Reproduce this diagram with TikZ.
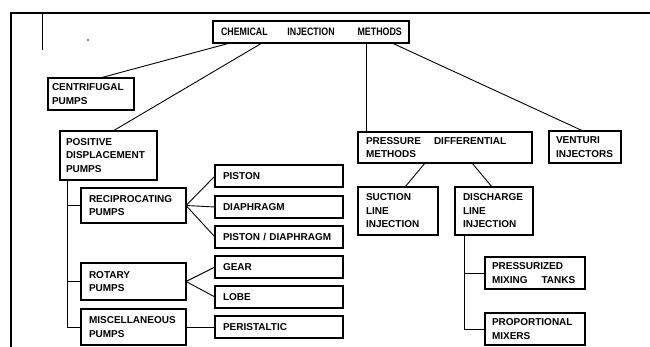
\documentclass[tikz,border=0pt]{standalone}
\usepackage{fontspec}
\usepackage{graphicx}
\setmainfont{Liberation Sans}
\begin{document}
\begin{tikzpicture}[x=1pt,y=-1pt,
  box/.style={draw, line width=1.1pt, rectangle, outer sep=0pt, inner xsep=8pt, inner ysep=2pt,
    align=left, anchor=north west, font=\fontsize{10}{13.5}\selectfont\bfseries},
  conn/.style={line width=0.9pt},
  frame/.style={line width=2pt}]
\useasboundingbox (0,0) rectangle (650,347);
% frame
\draw[frame] (11,347) -- (11,13) -- (650,13);
\draw[line width=1pt] (42,14) -- (42,50);
\fill (88,40) circle (0.9);
% boxes
\node[box, text width=180pt, minimum height=22pt] (chem) at (213,21)
  {\scalebox{0.82}[1]{\fontsize{10.8}{13}\selectfont CHEMICAL\hspace{24pt}INJECTION\hspace{28pt}METHODS}};
\node[box, inner xsep=4pt, text width=78pt, minimum height=32pt] (cent) at (48,78) {CENTRIFUGAL\\PUMPS};
\node[box, inner xsep=6pt, text width=85pt, minimum height=49pt] (pos) at (60,131) {POSITIVE\\DISPLACEMENT\\PUMPS};
\node[box, text width=89pt, minimum height=35pt] (recip) at (81,188) {RECIPROCATING\\PUMPS};
\node[box, text width=89pt, minimum height=37pt] (rot) at (81,263) {ROTARY\\PUMPS};
\node[box, text width=89pt, minimum height=36pt] (misc) at (81,309) {MISCELLANEOUS\\PUMPS};
\node[box, text width=112pt, minimum height=22pt] (piston) at (215,165) {PISTON};
\node[box, text width=112pt, minimum height=22pt] (diaph) at (215,196) {DIAPHRAGM};
\node[box, text width=112pt, minimum height=22pt] (pd) at (215,226) {PISTON / DIAPHRAGM};
\node[box, text width=112pt, minimum height=22pt] (gear) at (215,256) {GEAR};
\node[box, text width=112pt, minimum height=22pt] (lobe) at (215,286) {LOBE};
\node[box, text width=112pt, minimum height=22pt] (peri) at (215,316) {PERISTALTIC};
\node[box, text width=158pt, minimum height=31pt] (press) at (358,132) {\mbox{PRESSURE\hspace{13pt}DIFFERENTIAL}\\METHODS};
\node[box, inner xsep=7pt, text width=58pt, minimum height=32pt] (vent) at (549,131) {VENTURI\\INJECTORS};
\node[box, text width=64pt, minimum height=48pt] (suct) at (358,187) {SUCTION\\LINE\\INJECTION};
\node[box, text width=62pt, minimum height=48pt] (disch) at (455,187) {DISCHARGE\\LINE\\INJECTION};
\node[box, inner xsep=7pt, text width=86pt, minimum height=32pt] (prz) at (485,257) {PRESSURIZED\\\mbox{MIXING\hspace{14pt}TANKS}};
\node[box, inner xsep=7pt, text width=86pt, minimum height=32pt] (prop) at (485,313) {PROPORTIONAL\\MIXERS};
% connectors from top
\draw[conn] ([xshift=17pt]chem.south west) -- ([xshift=52pt]cent.north west);
\draw[conn] ([xshift=49pt]chem.south west) -- ([xshift=53pt]pos.north west);
\draw[conn] ([xshift=8pt]press.north west) -- ([xshift=8pt]press.north west |- chem.south);
\draw[conn] ([xshift=-17pt]chem.south east) -- ([xshift=34pt]vent.north west);
% pressure differential
\draw[conn] ([xshift=67pt]press.south west) -- ([xshift=47pt]suct.north west);
\draw[conn] ([xshift=114pt]press.south west) -- ([xshift=37pt]disch.north west);
\coordinate (dspine) at ([xshift=9pt]disch.south west);
\draw[conn] (dspine) |- (prop.west);
\draw[conn] (dspine |- prz.west) -- (prz.west);
% positive displacement
\coordinate (pspine) at ([xshift=7pt]pos.south west);
\draw[conn] (pspine) |- (misc.west);
\draw[conn] (pspine |- recip.west) -- (recip.west);
\draw[conn] (pspine |- rot.west) -- (rot.west);
\draw[conn] (recip.east) -- (piston.west);
\draw[conn] (recip.east) -- (diaph.west);
\draw[conn] (recip.east) -- (pd.west);
\draw[conn] (rot.east) -- (gear.west);
\draw[conn] (rot.east) -- (lobe.west);
\draw[conn] (misc.east) -- (peri.west);
\end{tikzpicture}
\end{document}
